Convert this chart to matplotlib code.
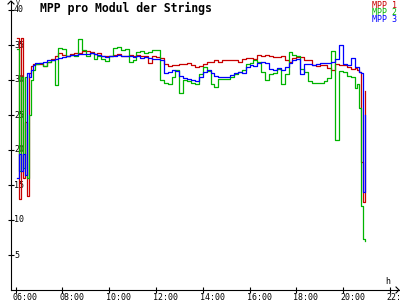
import numpy as np
import matplotlib
matplotlib.use("Agg")
import matplotlib.pyplot as plt
from matplotlib.lines import Line2D
from matplotlib.transforms import offset_copy

# time grid in minutes after midnight (finer at start and end of the day)
minutes_start = [365, 370, 375, 380, 385, 390, 395, 400, 405, 410]
minutes_mid = list(range(420, 1231, 10))
minutes_end = [1235, 1240, 1245, 1250, 1255]

red_start = [36.0, 13.0, 36.0, 16.0, 24.0, 13.5, 31.0, 32.0, 32.3, 32.3]
red_mid = [
    32.3, 32.0, 32.6, 33.0, 33.5, 33.9,  # 07
    33.6, 33.5, 33.7, 33.8, 33.9, 34.2,  # 08
    34.1, 34.0, 33.7, 33.8, 33.5, 33.4,  # 09
    33.5, 33.6, 33.7, 33.5, 33.5, 33.6,  # 10
    33.5, 33.6, 33.4, 33.5, 32.5, 33.4,  # 11
    33.3, 33.1, 32.3, 32.0, 32.2, 32.1,  # 12
    32.3, 32.3, 32.4, 32.2, 31.9, 32.0,  # 13
    32.3, 32.6, 32.6, 32.8, 32.6, 32.9,  # 14
    32.8, 32.9, 32.9, 32.6, 33.0, 33.1,  # 15
    33.1, 33.0, 33.6, 33.5, 33.6, 33.4,  # 16
    33.3, 33.3, 33.4, 32.9, 32.6, 33.2,  # 17
    33.3, 33.3, 32.9, 32.9, 32.2, 32.0,  # 18
    32.2, 32.1, 31.7, 31.4, 32.3, 32.2,  # 19
    32.2, 31.8, 31.6, 31.7,              # 20
]
red_end = [31.5, 31.2, 18.3, 12.6, 28.4]

green_start = [34.5, 17.0, 30.5, 17.5, 30.5, 16.0, 25.0, 30.0, 31.5, 32.3]
green_mid = [
    32.4, 32.0, 32.6, 32.8, 29.3, 34.6,  # 07
    34.5, 33.4, 33.6, 33.5, 35.8, 34.3,  # 08
    33.4, 33.8, 33.0, 33.4, 33.0, 32.7,  # 09
    33.4, 34.6, 34.7, 34.3, 34.4, 32.6,  # 10
    32.8, 34.0, 34.1, 33.9, 34.0, 34.3,  # 11
    34.3, 30.0, 29.6, 29.4, 30.5, 31.4,  # 12
    28.2, 30.0, 29.8, 29.6, 29.5, 30.8,  # 13
    31.9, 31.3, 29.5, 29.0, 30.2, 30.2,  # 14
    30.2, 30.5, 30.8, 31.2, 31.5, 32.3,  # 15
    32.4, 32.8, 32.6, 31.2, 30.0, 30.9,  # 16
    31.0, 31.6, 29.5, 30.8, 34.0, 33.6,  # 17
    33.5, 31.6, 31.2, 29.8, 29.6, 29.6,  # 18
    29.6, 29.8, 30.3, 34.2, 21.4, 31.3,  # 19
    31.2, 30.6, 30.4, 28.8,              # 20
]
green_end = [29.5, 26.0, 12.0, 7.3, 7.0]

blue_start = [16.0, 19.5, 17.0, 19.5, 16.5, 31.0, 30.5, 31.5, 32.2, 32.5]
blue_mid = [
    32.4, 32.6, 32.8, 32.9, 33.0, 33.2,  # 07
    33.3, 33.5, 33.6, 33.6, 33.7, 33.7,  # 08
    33.7, 33.8, 33.7, 33.6, 33.4, 33.3,  # 09
    33.4, 33.5, 33.6, 33.5, 33.4, 33.5,  # 10
    33.3, 33.4, 33.2, 33.3, 33.1, 33.0,  # 11
    33.0, 32.8, 31.0, 31.2, 31.5, 31.3,  # 12
    30.6, 30.3, 30.1, 30.0, 29.9, 30.4,  # 13
    31.2, 31.5, 31.0, 30.6, 30.4, 30.5,  # 14
    30.5, 30.7, 31.0, 31.2, 31.0, 31.8,  # 15
    32.1, 32.0, 32.5, 32.6, 32.4, 31.6,  # 16
    31.5, 31.7, 31.5, 31.8, 32.5, 32.8,  # 17
    33.0, 30.8, 32.3, 32.3, 32.2, 32.3,  # 18
    32.4, 32.4, 32.4, 32.6, 33.0, 35.0,  # 19
    32.3, 32.2, 33.2, 31.8,              # 20
]
blue_end = [31.8, 31.2, 31.0, 14.0, 25.0]

series_names = ["MPP 1", "MPP 2", "MPP 3"]
series_colors = ["#c80000", "#00b400", "#0000ff"]

y_ticks = [5, 10, 15, 20, 25, 30, 35, 40]
x_ticks = [6, 8, 10, 12, 14, 16, 18, 20, 22]
x_labels = ["06:00", "08:00", "10:00", "12:00", "14:00", "16:00", "18:00", "20:00", "22:00"]

MONO = "DejaVu Sans Mono"

hours = np.array(minutes_start + minutes_mid + minutes_end) / 60.0
red = red_start + red_mid + red_end
green = green_start + green_mid + green_end
blue = blue_start + blue_mid + blue_end

fig = plt.figure(figsize=(4, 3), dpi=100)
fig.patch.set_facecolor("white")
ax = fig.add_axes([11 / 400, 10 / 300, 388 / 400, 289 / 300])
ax.set_facecolor("white")

for vals, col in zip([red, green, blue], series_colors):
    ax.plot(hours, vals, drawstyle="steps-post", color=col, lw=0.9, zorder=3)

ax.set_xlim(6 + (11 - 15.5) / 23.4, 6 + (399 - 15.5) / 23.4)
ax.set_ylim(0, 289 / 7)

for s in ["top", "right"]:
    ax.spines[s].set_visible(False)
for s in ["left", "bottom"]:
    ax.spines[s].set_linewidth(0.8)
    ax.spines[s].set_color("black")

ax.set_xticks(x_ticks)
ax.set_yticks(y_ticks)
ax.tick_params(direction="inout", length=4.5, width=0.8, labelbottom=False, labelleft=False)

# tick labels drawn by hand: right of y axis, below x axis
ytrans = offset_copy(ax.get_yaxis_transform(), fig=fig, x=3, y=0, units="dots")
for v in y_ticks:
    ax.text(0, v, str(v), transform=ytrans, ha="left", va="center",
            fontsize=6, family=MONO, zorder=1, clip_on=False)
xtrans = offset_copy(ax.get_xaxis_transform(), fig=fig, x=-3, y=-3, units="dots")
for h, lab in zip(x_ticks, x_labels):
    ax.text(h, 0, lab, transform=xtrans, ha="left", va="top",
            fontsize=6, family=MONO, zorder=1, clip_on=False)

# axis arrows and unit labels
fig.add_artist(Line2D([8 / 400, 11 / 400, 14 / 400], [1 - 4 / 300, 1 - 1 / 300, 1 - 4 / 300],
                      color="black", lw=0.8))
fig.add_artist(Line2D([396 / 400, 399 / 400, 396 / 400], [1 - 287 / 300, 1 - 290 / 300, 1 - 293 / 300],
                      color="black", lw=0.8))
fig.text(16 / 400, 1 - 0 / 300, "V", ha="left", va="top", fontsize=4.8, family=MONO)
fig.text(385 / 400, 1 - 277 / 300, "h", ha="left", va="top", fontsize=6, family=MONO)

fig.text(40 / 400, 1 - 2 / 300, "MPP pro Modul der Strings", ha="left", va="top",
         fontsize=8.3, family=MONO, weight="bold")

for i, (name, col) in enumerate(zip(series_names, series_colors)):
    fig.text(397 / 400, 1 - (5 + 7.5 * i) / 300, name, ha="right", va="center",
             fontsize=6, family=MONO, color=col)

fig.savefig("out.png", dpi=100)
